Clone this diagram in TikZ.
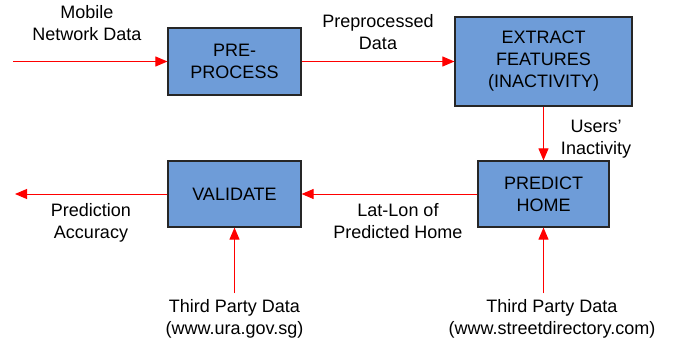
\documentclass[tikz,border=0pt]{standalone}
\usepackage{fontspec}
\setmainfont{Liberation Sans}
\usepackage{tikz}
\usetikzlibrary{arrows.meta}
\definecolor{boxblue}{RGB}{110,156,216}

\begin{document}
\begin{tikzpicture}
[x=1pt,y=-1pt,>={Triangle[length=12pt,width=10pt]},
  proc node/.style={draw=black!85,line width=1.2pt,fill=boxblue,inner sep=0pt,align=center,font=\fontsize{18}{22}\selectfont},
  text node/.style={align=center,inner sep=0pt,font=\fontsize{18}{22}\selectfont},
  flow/.style={->,draw=red,fill=red,line width=1pt}]
  \useasboundingbox (0,0) rectangle (674,345);

  \node[proc node,minimum width=133pt,minimum height=67pt] (pre) at (234.5,61.5) {PRE-\\PROCESS};
  \node[proc node,minimum width=177pt,minimum height=89pt] (ext) at (543.5,61.5) {EXTRACT\\FEATURES\\(INACTIVITY)};
  \node[proc node,minimum width=131pt,minimum height=66pt] (pred) at (543.5,194) {PREDICT\\HOME};
  \node[proc node,minimum width=133pt,minimum height=66pt] (val) at (234.5,194) {VALIDATE};

  \coordinate (in) at (13,61.5);
  \coordinate (out) at (15,194);
  \coordinate (tpa) at (234.5,293);
  \coordinate (tpb) at (543.5,293);

  \node[text node] (inlbl) at (87,23) {Mobile\\Network Data};
  \node[text node] (prelbl) at (378,32) {Preprocessed\\Data};
  \node[text node] (extlbl) at (596,139) {Users’\\Inactivity};
  \node[text node] (predlbl) at (398,221) {Lat-Lon of\\Predicted Home};
  \node[text node] (vallbl) at (91,223) {Prediction\\Accuracy};
  \node[text node] (tpalbl) at (234.5,319) {Third Party Data\\(www.ura.gov.sg)};
  \node[text node] (tpblbl) at (552,319) {Third Party Data\\(www.streetdirectory.com)};

  \foreach \from/\to in {in/pre,pre/ext,ext/pred,pred/val,val/out,tpa/val,tpb/pred}
    \draw[flow] (\from) -- (\to);

\end{tikzpicture}
\end{document}
